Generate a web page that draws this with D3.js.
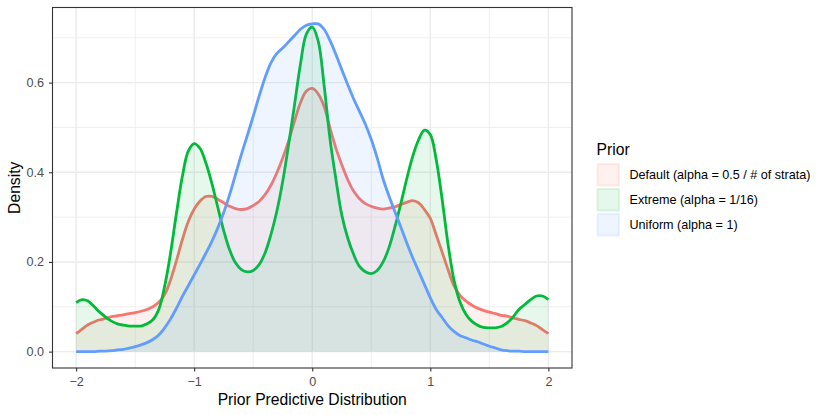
<!DOCTYPE html>
<html>
<meta charset="utf-8">
<head>
<title>prior predictive density</title>
<script src="https://d3js.org/d3.v7.min.js"></script>
<style>
body { margin: 0; background: #fff; }
text { font-family: "Liberation Sans", Arial, Helvetica, sans-serif; }
</style>
</head>
<body>
<div id="plot"></div>
<script>

// density values, on a 0.05 grid from -2 to 2
var xs = d3.range(81).map(function(i){ return -2 + i * 0.05; });

var defaultVals = [
	0.040, 0.050, 0.060, 0.066, 0.071, 0.074, 0.078, 0.080, 0.082, 0.085,
	0.087, 0.090, 0.094, 0.100, 0.110, 0.127, 0.160, 0.203, 0.250, 0.290,
	0.318, 0.336, 0.346, 0.346, 0.340, 0.332, 0.324, 0.319, 0.317, 0.319,
	0.326, 0.335, 0.350, 0.371, 0.399, 0.432, 0.470, 0.514, 0.555, 0.581,
	0.587, 0.575, 0.547, 0.499, 0.454, 0.417, 0.384, 0.358, 0.341, 0.330,
	0.324, 0.320, 0.318, 0.320, 0.323, 0.328, 0.333, 0.337, 0.332, 0.317,
	0.297, 0.260, 0.222, 0.183, 0.147, 0.126, 0.113, 0.104, 0.097, 0.092,
	0.088, 0.085, 0.081, 0.079, 0.075, 0.072, 0.069, 0.064, 0.058, 0.049, 0.040];

var extremeVals = [
	0.109, 0.116, 0.113, 0.101, 0.088, 0.077, 0.068, 0.062, 0.059, 0.057,
	0.057, 0.057, 0.062, 0.071, 0.094, 0.146, 0.220, 0.309, 0.391, 0.447,
	0.464, 0.453, 0.420, 0.375, 0.322, 0.270, 0.227, 0.198, 0.183, 0.178,
	0.181, 0.194, 0.220, 0.261, 0.313, 0.380, 0.462, 0.551, 0.641, 0.708,
	0.724, 0.693, 0.595, 0.475, 0.385, 0.305, 0.254, 0.217, 0.190, 0.178,
	0.174, 0.181, 0.200, 0.232, 0.278, 0.330, 0.385, 0.435, 0.472, 0.494,
	0.484, 0.428, 0.340, 0.240, 0.160, 0.112, 0.084, 0.068, 0.059, 0.054,
	0.053, 0.053, 0.056, 0.064, 0.077, 0.094, 0.105, 0.116, 0.124, 0.124, 0.116];

var uniformVals = [
	0.000, 0.000, 0.000, 0.000, 0.001, 0.001, 0.002, 0.004, 0.005, 0.008,
	0.011, 0.015, 0.020, 0.027, 0.037, 0.053, 0.073, 0.097, 0.123, 0.147,
	0.171, 0.195, 0.220, 0.246, 0.276, 0.310, 0.350, 0.395, 0.440, 0.482,
	0.525, 0.570, 0.611, 0.644, 0.665, 0.677, 0.691, 0.705, 0.719, 0.728,
	0.731, 0.731, 0.719, 0.694, 0.663, 0.629, 0.596, 0.564, 0.536, 0.507,
	0.473, 0.432, 0.385, 0.347, 0.312, 0.278, 0.243, 0.210, 0.180, 0.150,
	0.120, 0.094, 0.076, 0.058, 0.045, 0.036, 0.031, 0.026, 0.022, 0.017,
	0.012, 0.008, 0.004, 0.002, 0.001, 0.001, 0.000, 0.000, 0.000, 0.000, 0.000];

var seriesNames = ["Default (alpha = 0.5 / # of strata)", "Extreme (alpha = 1/16)", "Uniform (alpha = 1)"];
var seriesColors = ["#F8766D", "#00BA38", "#619CFF"];
var xTicks = [-2, -1, 0, 1, 2];
var yTicks = [0.0, 0.2, 0.4, 0.6];

var series = [defaultVals, extremeVals, uniformVals].map(function(vals, i){
	return {
		name: seriesNames[i],
		color: seriesColors[i],
		values: vals.map(function(v, j){ return { x: xs[j], y: v }; })
	};
});

var width = 830, height = 415;
var margin = { top: 7.5, right: 258, bottom: 47, left: 52.5 };
var pw = width - margin.left - margin.right;
var ph = height - margin.top - margin.bottom;

var yMax = d3.max(series, function(s){ return d3.max(s.values, function(d){ return d.y; }); });
var xScale = d3.scaleLinear().domain([-2.2, 2.2]).range([0, pw]);
var yScale = d3.scaleLinear().domain([-0.05 * yMax, yMax * 1.05]).range([ph, 0]);

var svg = d3.select("#plot").append("svg")
	.attr("width", width)
	.attr("height", height);

var g = svg.append("g")
	.attr("transform", "translate(" + margin.left + "," + margin.top + ")");

// grid
var minorX = [-1.5, -0.5, 0.5, 1.5], minorY = [0.1, 0.3, 0.5, 0.7];
g.selectAll(".minx").data(minorX).enter().append("line")
	.attr("x1", function(d){ return xScale(d); }).attr("x2", function(d){ return xScale(d); })
	.attr("y1", 0).attr("y2", ph)
	.attr("stroke", "#EBEBEB").attr("stroke-width", 0.8);
g.selectAll(".miny").data(minorY).enter().append("line")
	.attr("y1", function(d){ return yScale(d); }).attr("y2", function(d){ return yScale(d); })
	.attr("x1", 0).attr("x2", pw)
	.attr("stroke", "#EBEBEB").attr("stroke-width", 0.8);
g.selectAll(".majx").data(xTicks).enter().append("line")
	.attr("x1", function(d){ return xScale(d); }).attr("x2", function(d){ return xScale(d); })
	.attr("y1", 0).attr("y2", ph)
	.attr("stroke", "#EBEBEB").attr("stroke-width", 1.4);
g.selectAll(".majy").data(yTicks).enter().append("line")
	.attr("y1", function(d){ return yScale(d); }).attr("y2", function(d){ return yScale(d); })
	.attr("x1", 0).attr("x2", pw)
	.attr("stroke", "#EBEBEB").attr("stroke-width", 1.4);

// densities
var area = d3.area()
	.x(function(d){ return xScale(d.x); })
	.y0(yScale(0))
	.y1(function(d){ return yScale(d.y); })
	.curve(d3.curveCatmullRom.alpha(0.5));

var line = d3.line()
	.x(function(d){ return xScale(d.x); })
	.y(function(d){ return yScale(d.y); })
	.curve(d3.curveCatmullRom.alpha(0.5));

series.forEach(function(s){
	g.append("path")
		.datum(s.values)
		.attr("d", area)
		.attr("fill", s.color)
		.attr("fill-opacity", 0.1);
	g.append("path")
		.datum(s.values)
		.attr("d", line)
		.attr("fill", "none")
		.attr("stroke", s.color)
		.attr("stroke-width", 2.8)
		.attr("stroke-linejoin", "round");
});

// border
g.append("rect")
	.attr("width", pw).attr("height", ph)
	.attr("fill", "none")
	.attr("stroke", "#333333").attr("stroke-width", 1.1);

// axes
var xAxis = d3.axisBottom(xScale).tickValues(xTicks).tickSize(3.5).tickPadding(5.2)
	.tickFormat(function(d){ return d < 0 ? "\u2212" + Math.abs(d) : d; });
var yAxis = d3.axisLeft(yScale).tickValues(yTicks).tickSize(3.5).tickPadding(5)
	.tickFormat(d3.format(".1f"));

var gx = g.append("g").attr("transform", "translate(0," + ph + ")").call(xAxis);
var gy = g.append("g").call(yAxis);
[gx, gy].forEach(function(a){
	a.select(".domain").remove();
	a.selectAll(".tick line").attr("stroke", "#333333").attr("stroke-width", 1.1);
	a.selectAll(".tick text").attr("fill", "#4D4D4D").style("font-size", "12.6px")
		.style("font-family", "'Liberation Sans', Arial, sans-serif");
});

svg.append("text")
	.attr("x", margin.left + pw / 2).attr("y", 404.5)
	.attr("text-anchor", "middle")
	.style("font-size", "15.7px")
	.text("Prior Predictive Distribution");

svg.append("text")
	.attr("transform", "translate(19.5," + (margin.top + ph / 2) + ") rotate(-90)")
	.attr("text-anchor", "middle")
	.style("font-size", "15.7px")
	.text("Density");

// legend
var legend = svg.append("g").attr("transform", "translate(596.5,139)");
legend.append("text")
	.attr("x", 0).attr("y", 16)
	.style("font-size", "15.7px")
	.text("Prior");

var items = legend.selectAll(".item").data(series).enter().append("g")
	.attr("transform", function(d, i){ return "translate(0," + (24 + i * 25) + ")"; });
items.append("rect")
	.attr("x", 1).attr("y", 1)
	.attr("width", 21.5).attr("height", 21.5)
	.attr("fill", function(d){ return d.color; })
	.attr("fill-opacity", 0.1)
	.attr("stroke", function(d){ return d.color; })
	.attr("stroke-opacity", 0.12)
	.attr("stroke-width", 2);
items.append("text")
	.attr("x", 33).attr("y", 16.2)
	.style("font-size", "12.6px")
	.text(function(d){ return d.name; });

</script>
</body>
</html>
